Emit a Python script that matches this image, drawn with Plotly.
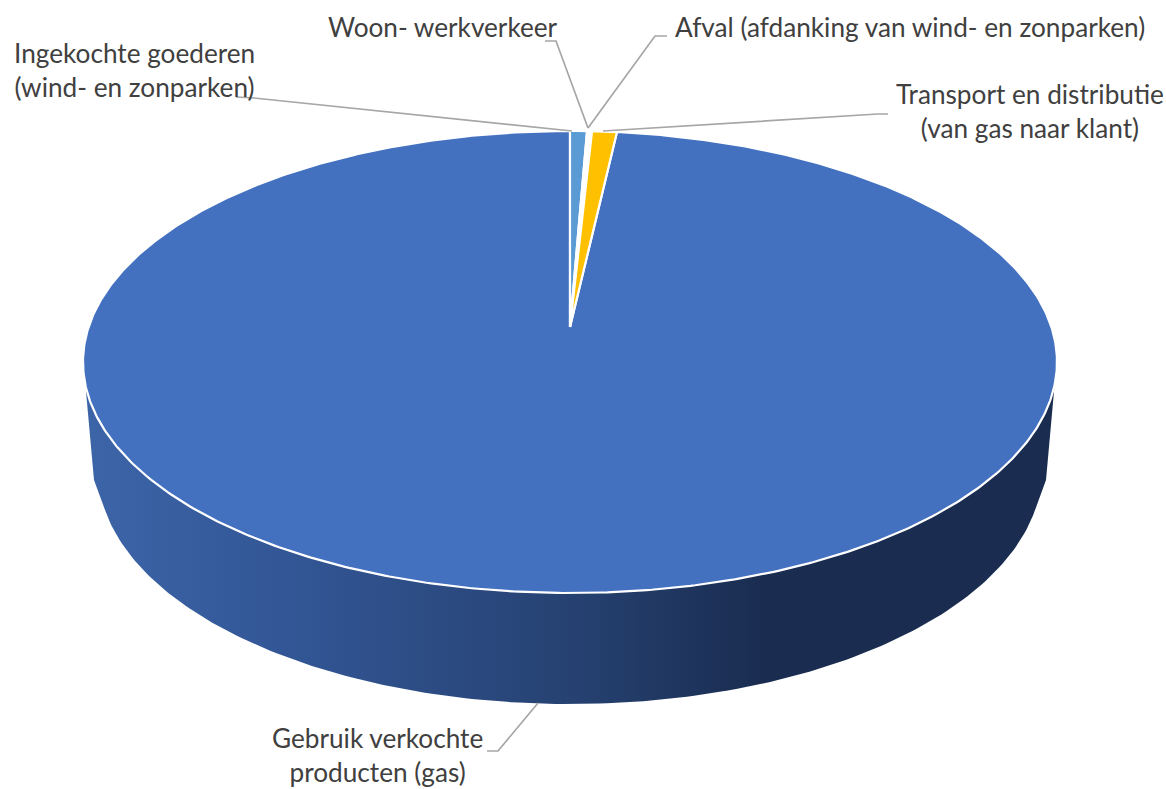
import numpy as np
import plotly.graph_objects as go

# --- data (share of emissions, %)
categories = ["Ingekochte goederen<br>(wind- en zonparken)", "Woon- werkverkeer",
              "Afval (afdanking van wind- en zonparken)",
              "Transport en distributie<br>(van gas naar klant)",
              "Gebruik verkochte<br>producten (gas)"]
values = [0.65, 0.10, 0.09, 0.95, 98.21]
colors = ["#5B9BD5", "#FFFFFF", "#FFFFFF", "#FFC000", "#4371C0"]

# --- label layout: centre x, centre y, leader polyline
label_x = [134, 443, 909.5, 1029.5, 377]
label_y = [70, 27, 27, 111, 755]
leaders = [([236, 254, 572], [97, 98, 131]),
           ([545, 556, 588], [41, 41, 128]),
           ([667, 655, 588], [36, 36, 128]),
           ([888, 878, 603], [114, 114, 131]),
           ([487, 498, 538], [751, 751, 703])]

# --- pie geometry (page pixels)
CX, CY, A, B = 570, 362, 487, 231     # top rim
APEX_Y = 327                          # perspective centre of the disc
K = (CY - APEX_Y) / B
BOT_CY, BOT_A, BOT_B = 470, 472, 234  # bottom rim
SHOULDER_Y, SHOULDER_DX = 480, 476


def rim(theta):
    X, Y = np.sin(theta), np.cos(theta)
    d = 1 + K * Y
    return CX + A * X * np.sqrt(1 - K * K) / d, CY - B * (Y + K) / d


fig = go.Figure()

# side wall
y_tan = 385
x_tan = A * np.sqrt(1 - ((y_tan - CY) / B) ** 2)
t0 = np.arcsin((508 - BOT_CY) / BOT_B)
t = np.linspace(np.pi - t0, t0, 181)
wx = np.concatenate([[CX - x_tan, CX - SHOULDER_DX], CX + BOT_A * np.cos(t),
                     [CX + SHOULDER_DX, CX + x_tan]])
wy = np.concatenate([[y_tan, SHOULDER_Y], BOT_CY + BOT_B * np.sin(t),
                     [SHOULDER_Y, y_tan]])
fig.add_trace(go.Scatter(
    x=wx, y=wy, mode="lines", line=dict(width=0), fill="toself", hoverinfo="skip",
    fillgradient=dict(type="horizontal", colorscale=[
        [0, "#3C65A8"], [0.22, "#325594"], [0.5, "#264272"],
        [0.7, "#1A2C50"], [1, "#1A2C50"]]),
    showlegend=False))

# top face slices, drawn from the values
total = sum(values)
order = [4, 0, 1, 2, 3]
starts = np.concatenate([[0], np.cumsum(values)[:-1]]) / total * 2 * np.pi
spans = np.array(values) / total * 2 * np.pi
for i in order:
    n = max(3, int(spans[i] / (2 * np.pi) * 720))
    th = np.linspace(starts[i], starts[i] + spans[i], n)
    rx, ry = rim(th)
    fig.add_trace(go.Scatter(
        x=np.concatenate([[CX], rx, [CX]]), y=np.concatenate([[APEX_Y], ry, [APEX_Y]]),
        mode="lines", line=dict(color="white", width=2.2), fill="toself",
        fillcolor=colors[i], name=categories[i].replace("<br>", " "),
        hoverinfo="name", showlegend=False))

# leader lines
for lx, ly in leaders:
    fig.add_trace(go.Scatter(x=lx, y=ly, mode="lines", hoverinfo="skip",
                             line=dict(color="#A6A6A6", width=1.7), showlegend=False))

for name, x, y in zip(categories, label_x, label_y):
    fig.add_annotation(x=x, y=y, xref="x", yref="y", text=name, showarrow=False,
                       xanchor="center", yanchor="middle", align="center",
                       font=dict(family="Lato", size=26.2, color="#404040"))

fig.update_layout(
    width=1166, height=789, margin=dict(l=0, r=0, t=0, b=0),
    paper_bgcolor="white", plot_bgcolor="white", showlegend=False,
    xaxis=dict(range=[0, 1166], visible=False, fixedrange=True),
    yaxis=dict(range=[789, 0], visible=False, fixedrange=True),
)
fig.write_html("out.html", config=dict(displayModeBar=False),
               post_script="document.body.style.margin='0';document.body.style.overflow='hidden';")
